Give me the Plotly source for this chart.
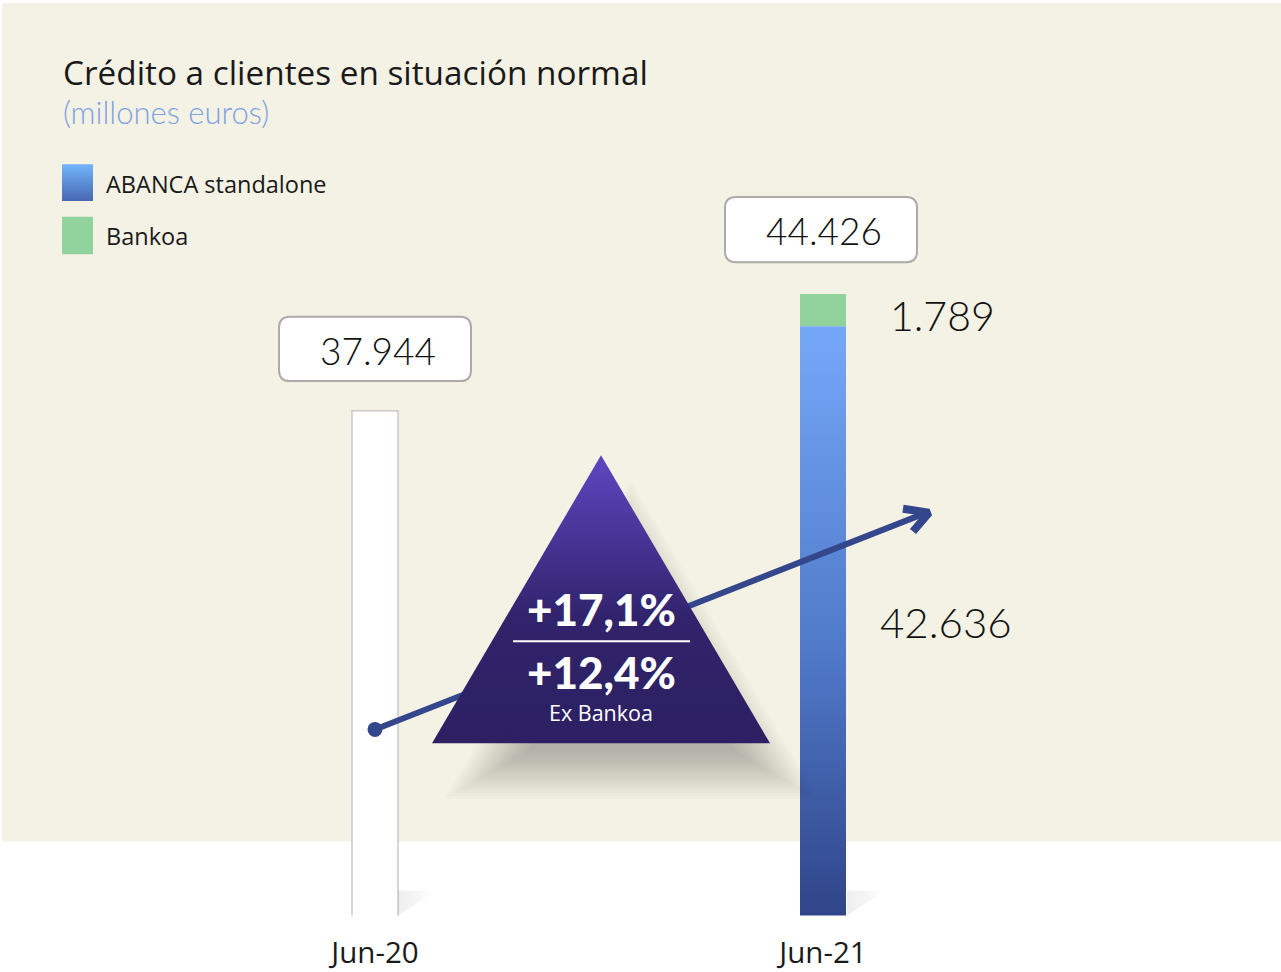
import plotly.graph_objects as go

# ---------------- data ----------------
CATEGORIES = ["Jun-20", "Jun-21"]
TOTAL = [37944, 44426]
ABANCA = [None, 42636]
BANKOA = [None, 1789]
GROWTH = ["+17,1%", "+12,4%"]
GROWTH_NOTE = "Ex Bankoa"
TITLE = "Crédito a clientes en situación normal"
SUBTITLE = "(millones euros)"
LEGEND_NAMES = ["ABANCA standalone", "Bankoa"]

# ---------------- layout constants ----------------
W, H = 1281, 972
BAR_BOTTOM_PX = 925
UNITS_PER_PX = 54.93
Y_MIN = 9929
Y_MAX = Y_MIN + BAR_BOTTOM_PX * UNITS_PER_PX
X0_PX, X_STEP_PX = 375, 448
XR = [-X0_PX / X_STEP_PX, (W - X0_PX) / X_STEP_PX]
BW = 46 / X_STEP_PX
FONT = "Lato"
FONT2 = "Open Sans"
BEIGE = "#f4f2e4"

fig = go.Figure()

# ---- main axes: bars ----
fig.add_trace(go.Bar(x=[0], y=[TOTAL[0]], width=BW,
                     marker=dict(color="white", line=dict(color="#c9c9c9", width=1.5)),
                     xaxis="x", yaxis="y", showlegend=False, hoverinfo="skip"))
xa = [1 - BW / 2, 1 + BW / 2, 1 + BW / 2, 1 - BW / 2, 1 - BW / 2]
ya = [0, 0, ABANCA[1], ABANCA[1], 0]
fig.add_trace(go.Scatter(x=xa, y=ya, mode="lines", fill="toself",
                         line=dict(width=0, color="rgba(0,0,0,0)"),
                         fillgradient=dict(type="vertical",
                                           colorscale=[[0, "#2f4387"], [0.45, "#4f78c8"], [1, "#75a7f8"]],
                                           start=Y_MIN, stop=ABANCA[1]),
                         xaxis="x", yaxis="y", showlegend=False, hoverinfo="skip"))
fig.add_trace(go.Bar(x=[1], y=[BANKOA[1]], base=[ABANCA[1]], width=BW,
                     marker=dict(color="#92d29c", line=dict(width=0)),
                     xaxis="x", yaxis="y", showlegend=False, hoverinfo="skip"))

# ---- overlay (pixel) axes: decorations ----
def px_poly(xs, ys, **kw):
    fig.add_trace(go.Scatter(x=xs, y=ys, mode="lines", fill="toself",
                             xaxis="x2", yaxis="y2", showlegend=False,
                             hoverinfo="skip", **kw))

# bar foot shadows
for bx in (398, 847):
    px_poly([bx, bx + 38, bx, bx], [925, 900, 900, 925],
            line=dict(width=0, color="rgba(0,0,0,0)"),
            fillgradient=dict(type="horizontal",
                              colorscale=[[0, "rgba(0,0,0,0.07)"], [1, "rgba(0,0,0,0)"]]))

# triangle soft drop shadow (layered offsets of a shrunken triangle)
TRI_X = [601, 770, 432, 601]
TRI_Y = [460, 751, 751, 460]
INR = 97.3
icx, icy = 601, 751 - INR
SHRINK = 0.86
SDX, SDY = 30, 46
core = INR * SHRINK
for d in range(-24, 27, 3):
    s = SHRINK * (core + d) / core
    xs = [icx + (x - icx) * s + SDX for x in TRI_X]
    ys = [icy + (y - icy) * s + SDY for y in TRI_Y]
    px_poly(xs, ys, line=dict(width=0, color="rgba(0,0,0,0)"),
            fillcolor="rgba(20,20,10,0.017)")

# growth arrow line
fig.add_trace(go.Scatter(x=[375, 924], y=[737, 519], mode="lines",
                         line=dict(color="#34478c", width=6),
                         xaxis="x2", yaxis="y2", showlegend=False, hoverinfo="skip"))
fig.add_trace(go.Scatter(x=[375], y=[737], mode="markers",
                         marker=dict(color="#34478c", size=15, line=dict(width=0)),
                         xaxis="x2", yaxis="y2", showlegend=False, hoverinfo="skip"))
fig.add_trace(go.Scatter(x=[903, 929, 913], y=[514, 518, 537], mode="lines",
                         line=dict(color="#34478c", width=8),
                         xaxis="x2", yaxis="y2", showlegend=False, hoverinfo="skip"))

# triangle
px_poly(TRI_X, TRI_Y, line=dict(width=0, color="rgba(0,0,0,0)"),
        fillgradient=dict(type="vertical",
                          colorscale=[[0, "#2c2062"], [0.45, "#30236b"], [1, "#5c46be"]],
                          start=751, stop=460))

# legend squares
px_poly([62, 93, 93, 62, 62], [166, 166, 203, 203, 166],
        line=dict(width=0, color="rgba(0,0,0,0)"),
        fillgradient=dict(type="vertical",
                          colorscale=[[0, "#4563ad"], [1, "#70b2f8"]],
                          start=203, stop=166))
px_poly([62, 93, 93, 62, 62], [219, 219, 257, 257, 219],
        line=dict(width=0, color="rgba(0,0,0,0)"), fillcolor="#92d29c")

# ---- shapes ----
def rounded(x0, y0, x1, y1, r):
    return (f"M {x0+r},{y0} L {x1-r},{y0} Q {x1},{y0} {x1},{y0+r} "
            f"L {x1},{y1-r} Q {x1},{y1} {x1-r},{y1} L {x0+r},{y1} "
            f"Q {x0},{y1} {x0},{y1-r} L {x0},{y0+r} Q {x0},{y0} {x0+r},{y0} Z")

shapes = [
    dict(type="rect", xref="paper", yref="paper", x0=2 / W, x1=1,
         y0=1 - 850 / H, y1=1 - 3 / H, fillcolor=BEIGE,
         line=dict(width=0), layer="below"),
    dict(type="path", xref="x2", yref="y2", path=rounded(279, 320, 471, 385, 11),
         fillcolor="white", line=dict(color="#ababab", width=2), layer="above"),
    dict(type="path", xref="x2", yref="y2", path=rounded(725, 199, 917, 265, 11),
         fillcolor="white", line=dict(color="#ababab", width=2), layer="above"),
    dict(type="line", xref="x2", yref="y2", x0=513, x1=690, y0=648, y1=648,
         line=dict(color="white", width=2), layer="above"),
]

# ---- annotations ----
def ann(text, x, y, size, color="#1a1a1a", weight=400, xanchor="center", family=FONT):
    return dict(text=text, x=x, y=y, xref="x2", yref="y2", showarrow=False,
                xanchor=xanchor, yanchor="middle",
                font=dict(family=family, size=size, color=color, weight=weight))

annotations = [
    ann(TITLE, 61, 73, 33.3, "#1a1a1a", 400, "left", FONT2),
    ann(SUBTITLE, 61, 113, 31, "#7fa2e2", 300, "left"),
    ann(LEGEND_NAMES[0], 104, 186, 23.5, "#1a1a1a", 400, "left", FONT2),
    ann(LEGEND_NAMES[1], 104, 238, 23.5, "#1a1a1a", 400, "left", FONT2),
    ann(f"{TOTAL[0]:,}".replace(",", "."), 378, 354, 37, "#111111", 300),
    ann(f"{TOTAL[1]:,}".replace(",", "."), 824, 233, 37, "#111111", 300),
    ann(f"{BANKOA[1]:,}".replace(",", "."), 888, 319, 41, "#111111", 300, "left"),
    ann(f"{ABANCA[1]:,}".replace(",", "."), 878, 628, 42, "#111111", 300, "left"),
    ann(GROWTH[0], 601, 615, 44, "white", 900),
    ann(GROWTH[1], 601, 679, 44, "white", 900),
    ann(GROWTH_NOTE, 601, 720, 21.5, "white", 400, "center", FONT2),
]

fig.update_layout(
    width=W, height=H,
    margin=dict(l=0, r=0, t=0, b=0),
    paper_bgcolor="white", plot_bgcolor="rgba(0,0,0,0)",
    barmode="overlay", showlegend=False,
    xaxis=dict(domain=[0, 1], range=XR, tickvals=[0, 1], ticktext=CATEGORIES,
               showgrid=False, zeroline=False, showline=False,
               ticks="outside", ticklen=11, tickcolor="rgba(0,0,0,0)",
               tickfont=dict(family=FONT2, size=29.5, color="#1a1a1a"),
               anchor="y", fixedrange=True),
    yaxis=dict(domain=[1 - BAR_BOTTOM_PX / H, 1], range=[Y_MIN, Y_MAX],
               visible=False, showgrid=False, zeroline=False, anchor="x", fixedrange=True),
    xaxis2=dict(domain=[0, 1], range=[0, W], visible=False, anchor="y2", fixedrange=True),
    yaxis2=dict(domain=[0, 1], range=[H, 0], visible=False, anchor="x2", fixedrange=True),
    shapes=shapes, annotations=annotations,
)

fig.write_html(
    "out.html", config={"displayModeBar": False},
    post_script=("document.body.style.margin='0px';"
                 "document.documentElement.style.overflow='hidden';"
                 "var d=document.getElementById('{plot_id}');"
                 "d.style.position='fixed';d.style.top='0px';d.style.left='0px';"),
)
